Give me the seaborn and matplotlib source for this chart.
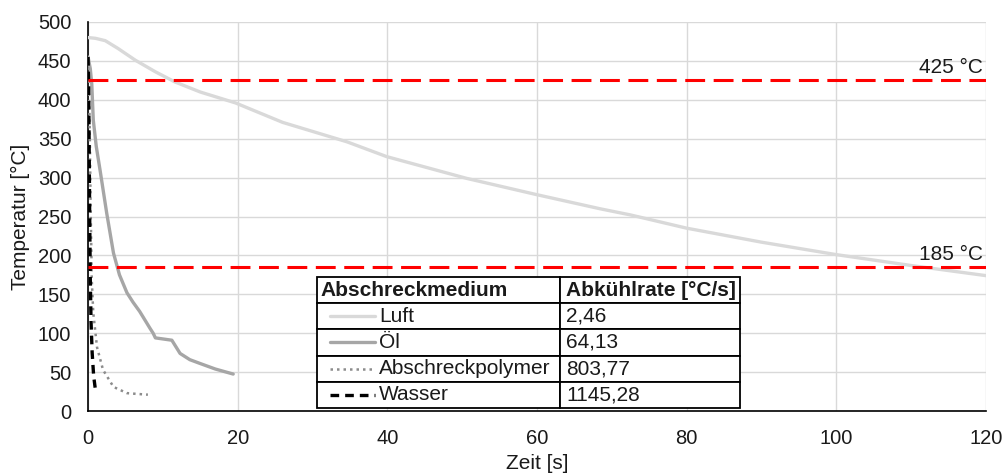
import pandas as pd
import seaborn as sns
import matplotlib.pyplot as plt

# Cooling curves (time in s, temperature in °C)
luft_t = [0, 1, 2.3, 4, 6.3, 9, 11.6, 15, 19.7, 26, 34.6, 39.9, 50.6, 60, 68.4, 72.5, 80, 90, 100, 110, 120]
luft_T = [480, 479, 476, 466, 451, 436, 423, 410, 396, 371, 346, 327, 299, 278, 260, 252, 235, 217, 201, 187, 174]

oel_t = [0, 0.3, 0.5, 0.7, 1.1, 1.6, 2.5, 3.4, 4.2, 5.2, 6.0, 6.9, 8.3, 8.7, 9.0, 11.2, 12.3, 13.6, 15, 17, 19.4]
oel_T = [455, 440, 420, 374, 340, 310, 254, 203, 175, 152, 140, 128, 106, 100, 94, 91, 74, 66, 61, 54, 47.5]

poly_t = [0, 0.2, 0.35, 0.5, 0.7, 1.2, 2.0, 3.4, 5.2, 6.5, 8.0]
poly_T = [450, 380, 260, 168, 126, 82, 53, 31, 23, 22, 21]

wasser_t = [0, 0.08, 0.15, 0.22, 0.3, 0.4, 0.55, 0.75, 0.95]
wasser_T = [455, 420, 340, 250, 170, 115, 75, 45, 30]

limits = [425, 185]
limit_labels = ["425 °C", "185 °C"]

media = ["Luft", "Öl", "Abschreckpolymer", "Wasser"]
rates = ["2,46", "64,13", "803,77", "1145,28"]

styles = {
    "Luft": dict(color="#d9d9d9", lw=2.4, ls="-"),
    "Öl": dict(color="#a6a6a6", lw=2.4, ls="-"),
    "Abschreckpolymer": dict(color="#8c8c8c", lw=1.8, ls=(0, (1, 1.6))),
    "Wasser": dict(color="black", lw=2.4, ls=(0, (2.6, 1.8))),
}

frames = []
for name, t, T in [("Luft", luft_t, luft_T), ("Öl", oel_t, oel_T),
                   ("Abschreckpolymer", poly_t, poly_T), ("Wasser", wasser_t, wasser_T)]:
    frames.append(pd.DataFrame({"medium": name, "zeit": t, "temp": T}))
df = pd.concat(frames, ignore_index=True)

sns.set_theme(style="whitegrid")
plt.rcParams["font.family"] = ["Liberation Sans", "DejaVu Sans"]

fig = plt.figure(figsize=(10.05, 4.75), dpi=100)
ax = fig.add_axes([0.0876, 0.1347, 0.8935, 0.819])

for name in media:
    st = styles[name]
    sns.lineplot(data=df[df["medium"] == name], x="zeit", y="temp", ax=ax,
                 color=st["color"], linewidth=st["lw"], linestyle=st["ls"],
                 sort=False, estimator=None, legend=False, zorder=3)

for val, lab in zip(limits, limit_labels):
    ax.axhline(val, color="red", linewidth=2.2, linestyle=(0, (6.5, 2.8)), zorder=4)
    ax.text(119.6, val + 4, lab, ha="right", va="bottom", fontsize=15, color="#1a1a1a", zorder=4)

ax.set_xlim(0, 120)
ax.set_ylim(0, 500)
ax.set_xticks(range(0, 121, 20))
ax.set_yticks(range(0, 501, 50))
ax.grid(True, color="#d9d9d9", linewidth=1)
ax.set_facecolor("white")
for s in ["top", "right"]:
    ax.spines[s].set_visible(False)
for s in ["left", "bottom"]:
    ax.spines[s].set_color("black")
    ax.spines[s].set_linewidth(1.2)
ax.tick_params(length=0, labelsize=14.5, colors="#1a1a1a")
ax.tick_params(axis="y", pad=12)
ax.tick_params(axis="x", pad=13)
ax.set_xlabel("Zeit [s]", fontsize=15, labelpad=4, color="#1a1a1a")
ax.set_ylabel("Temperatur [°C]", fontsize=15, labelpad=6, color="#1a1a1a")

# Table acting as legend
cell_text = [["Abschreckmedium", "Abkühlrate [°C/s]"]] + [[m, r] for m, r in zip(media, rates)]
tb_left, tb_bottom, tb_w, tb_h = 0.255, 0.0077, 0.471, 0.337
tbl = ax.table(cellText=cell_text, cellLoc="left",
               bbox=[tb_left, tb_bottom, tb_w, tb_h], colWidths=[0.5735, 0.4265])
tbl.auto_set_font_size(False)
tbl.set_fontsize(15)
tbl.set_zorder(6)
for (r, c), cell in tbl.get_celld().items():
    cell.set_edgecolor("black")
    cell.set_linewidth(1.3)
    cell.set_facecolor("white")
    cell.get_text().set_color("#1a1a1a")
    if c == 0 and r > 0:
        cell.PAD = 0.255
    elif c == 0:
        cell.PAD = 0.015
    else:
        cell.PAD = 0.035
    if r == 0:
        cell.get_text().set_fontweight("bold")

row_h = tb_h / 5
for i, name in enumerate(media):
    st = styles[name]
    yc = tb_bottom + tb_h - row_h * (i + 1.5)
    ax.plot([0.2695, 0.3196], [yc, yc], transform=ax.transAxes, color=st["color"],
            linewidth=st["lw"], linestyle=st["ls"], clip_on=False, zorder=7)

fig.savefig("out.png", dpi=100)
